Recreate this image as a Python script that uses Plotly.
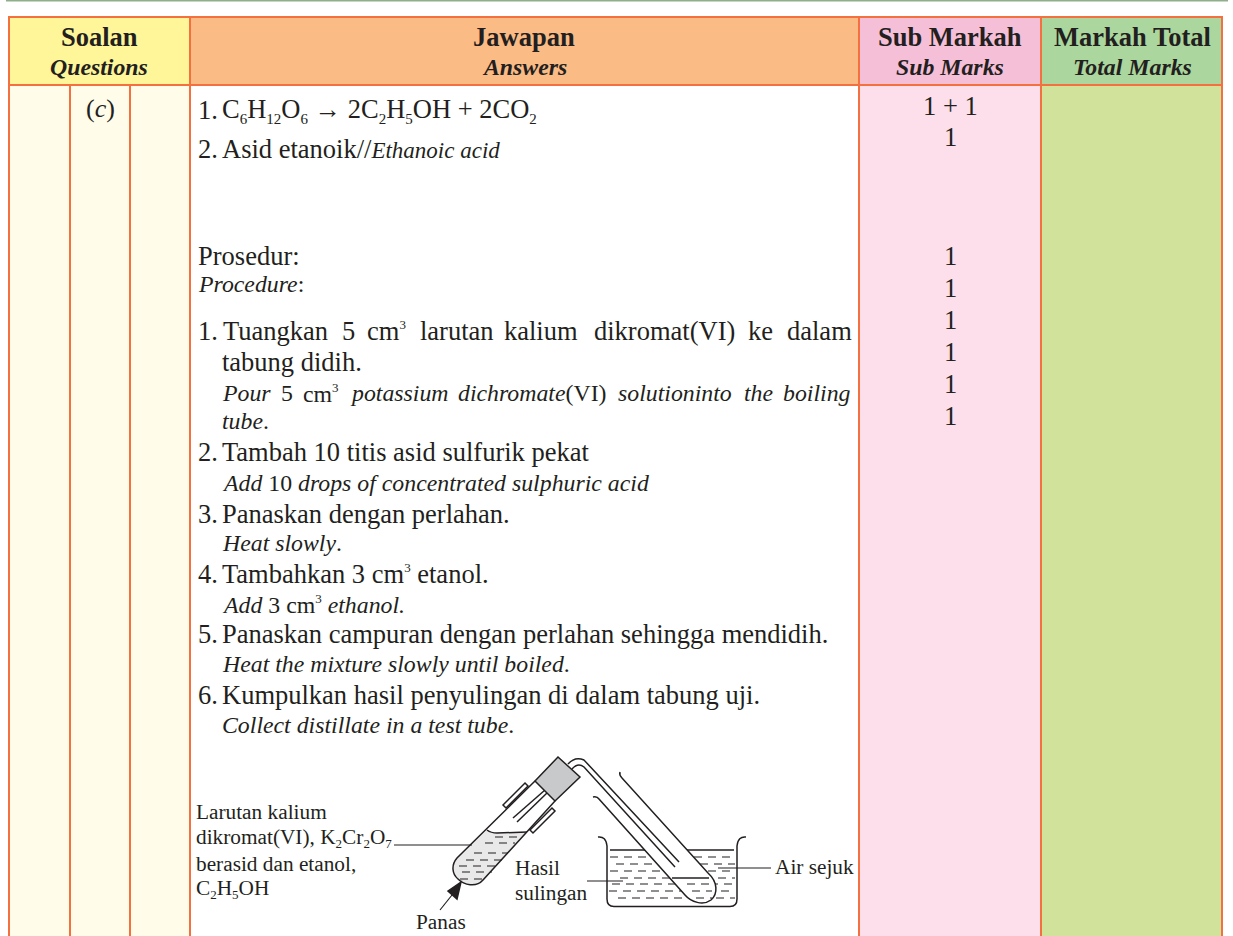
import plotly.graph_objects as go

W, H = 1233, 936
INK = "#231f20"
LINE = "#f4703f"
SERIF = "Liberation Serif"

# ---------- table content ----------
header_titles = ["Soalan", "Jawapan", "Sub Markah", "Markah Total"]
header_subtitles = ["Questions", "Answers", "Sub Marks", "Total Marks"]
header_centres = [99, 524, 950, 1132]
header_edges = [9, 190, 859, 1041, 1222]
header_colours = ["#fff599", "#fbbb85", "#f6bfd8", "#abd69d"]
body_edges = [9, 70, 130, 190, 859, 1041, 1222]
body_colours = ["#fffcea", "#fffcea", "#fffcea", "#ffffff", "#fcdfeb", "#d1e39b"]

def sb(t):
    return f"<sub><span style='font-size:15px'>{t}</span></sub>"

def sp(t):
    return f"<sup><span style='font-size:13px'>{t}</span></sup>"

answer_numbers = ["1.", "2.", "2.", "3.", "4.", "5.", "6."]
answer_number_y = [110, 149, 452, 514, 574, 634, 695]
answer_main = [
    f"C{sb(6)}H{sb(12)}O{sb(6)} <b>\u2192</b> 2C{sb(2)}H{sb(5)}OH + 2CO{sb(2)}",
    "Asid etanoik//<span style='font-size:23px'><i>Ethanoic acid</i></span>",
    "Tambah 10 titis asid sulfurik pekat",
    "Panaskan dengan perlahan.",
    f"Tambahkan 3 cm{sp(3)} etanol.",
    "Panaskan campuran dengan perlahan sehingga mendidih.",
    "Kumpulkan hasil penyulingan di dalam tabung uji.",
]
answer_indent = ["tabung didih."]
answer_indent_y = [362]
answer_head = ["Prosedur:"]
answer_head_y = [256]
answer_small = ["<i>Procedure</i>:"]
answer_small_y = [284]
answer_italic = [
    "<i>tube</i>.",
    "<i>Add</i> 10 <i>drops of concentrated sulphuric acid</i>",
    "<i>Heat slowly</i>.",
    f"<i>Add</i> 3 cm{sp(3)} <i>ethanol.</i>",
    "<i>Heat the mixture slowly until boiled</i>.",
    "<i>Collect distillate in a test tube</i>.",
]
answer_italic_y = [421, 483, 543, 604, 664, 725]

just1_words = ["1.", "Tuangkan", "5", f"cm{sp(3)}", "larutan", "kalium", "dikromat(VI)", "ke", "dalam"]
just1_x = [198, 223, 342, 367, 420, 504, 594, 748, 787]
just2_words = ["<i>Pour</i>", "5", f"cm{sp(3)}", "<i>potassium</i>", "<i>dichromate</i>(VI)",
               "<i>solutioninto</i>", "<i>the</i>", "<i>boiling</i>"]
just2_x = [222, 281, 303, 350, 458, 618, 744, 783]

sub_marks = ["1 + 1", "1", "1", "1", "1", "1", "1", "1"]
sub_marks_y = [106, 137, 256, 288, 320, 352, 384, 416]

def sl(t):
    return f"<sub><span style='font-size:13px'>{t}</span></sub>"

diagram_labels = ["Larutan kalium", f"dikromat(VI), K{sl(2)}Cr{sl(2)}O{sl(7)}",
                  "berasid dan etanol,", f"C{sl(2)}H{sl(5)}OH",
                  "Hasil", "sulingan", "Air sejuk", "Panas"]
diagram_label_x = [196, 196, 196, 196, 515, 515, 775, 416]
diagram_label_y = [812, 838, 864, 889, 868, 893, 867, 922]

# ---------- helpers ----------
shapes, notes = [], []

def rect(x0, y0, x1, y1, fill, line=LINE, lw=2):
    shapes.append(dict(type="rect", x0=x0, y0=y0, x1=x1, y1=y1, fillcolor=fill,
                       line=dict(color=line, width=lw), layer="below"))

def path(d, fill=None, lw=1.5, color=INK, dash=None):
    ln = dict(color=color, width=lw)
    if dash:
        ln["dash"] = dash
    s = dict(type="path", path=d, line=ln, layer="above")
    if fill:
        s["fillcolor"] = fill
    shapes.append(s)

def dashes(x0, x1, y):
    path(f"M{x0},{y} L{x1},{y}", lw=1.1, dash="8px,6px")

def text(t, x, y, size, anchor="left", color=INK):
    notes.append(dict(text=t, x=x - 2 if anchor == "left" else x, y=y, xref="x", yref="y",
                      showarrow=False, xanchor=anchor, yanchor="middle", align=anchor,
                      font=dict(family=SERIF, size=size, color=color)))

# ---------- top strip ----------
shapes.append(dict(type="rect", x0=6, y0=-2, x1=1228, y1=1.5, fillcolor="#8fae8c",
                   line=dict(width=0), layer="below"))

# ---------- table ----------
for c, a, b in zip(body_colours, body_edges[:-1], body_edges[1:]):
    rect(a, 85, b, 940, c)
for c, a, b in zip(header_colours, header_edges[:-1], header_edges[1:]):
    rect(a, 17, b, 85, c)
for t, s, x in zip(header_titles, header_subtitles, header_centres):
    text(f"<b>{t}</b>", x, 37, 26.5, "center")
    text(f"<b><i>{s}</i></b>", x, 67, 23.8, "center")

text("(<i>c</i>)", 100, 108, 26, "center")
for t, y in zip(answer_numbers, answer_number_y):
    text(t, 198, y, 26.5)
for t, y in zip(answer_main, answer_number_y):
    text(t, 222, y, 26.5)
for t, y in zip(answer_head, answer_head_y):
    text(t, 198, y, 26.5)
for t, y in zip(answer_indent, answer_indent_y):
    text(t, 222, y, 26.5)
for t, y in zip(answer_small, answer_small_y):
    text(t, 198, y, 23.8)
for t, y in zip(answer_italic, answer_italic_y):
    text(t, 222, y, 23.8)
for t, x in zip(just1_words, just1_x):
    text(t, x, 331, 26.5)
for t, x in zip(just2_words, just2_x):
    text(t, x, 393, 23.8)
for t, y in zip(sub_marks, sub_marks_y):
    text(t, 950, y, 26.5, "center")

# ---------- diagram: beaker water ----------
for y, x0 in [(857, 610), (864, 616), (871, 610), (878, 620), (884, 612), (891, 609), (898, 618)]:
    dashes(x0, 735, y)
path("M598,837 Q606,836 607,846 L607,899 Q607,906.5 614,906.5 L730,906.5 Q737,906.5 737,899 L737,846 Q738,836 746,837")
path("M610,850 L646,850")
path("M687,850 L734,850")
path("M718,868 L771,868", lw=1.2)

# ---------- receiving tube ----------
TUBE = "L685,895 C691,902 703,906 711,900 C718,894 718,882 708,873 L622,778"
path(f"M598,798 {TUBE} Z", fill="#ffffff", lw=0.01, color="#ffffff")
path(f"M593,797 Q597,796 599,799 {TUBE} Q619,775 620,772")
path("M672,878 L709,878")
for y, a, b in [(884, 687, 712), (891, 692, 712), (898, 696, 712)]:
    dashes(a, b, y)
path("M587,881 L623,881", lw=1.2)

# ---------- heated tube ----------
BASE = "C451,865 452,874 458,879 C464,885 476,888 483,880"
path(f"M487,830 L457,858 {BASE} L527,832 L497,833 Q491,833 487,830 Z", fill="#e9e9e9", lw=0.01, color="#e9e9e9")
for y, a, b in [(837, 495, 522), (843, 485, 515), (853, 474, 508), (860, 466, 502),
                (866, 459, 497), (872, 462, 492), (879, 460, 482)]:
    dashes(a, b, y)
path(f"M535,781 L457,858 {BASE} L555,801")
path("M487,830 Q491,833 497,833 L527,832")
path("M503,805 L525,783 L528,786 L506,808 Z", fill="#ffffff")
path("M530,830 L552,808 L555,811 L533,833 Z", fill="#ffffff")
path("M513,818 L545,790")
path("M517,822 L547,793")
path("M535,781 L558,757 L580,777 L555,801 Z", fill="#c8c9cb")
path("M568,764 Q575,756 584,760 L679,862")
path("M572,769 Q578,762 584,767 L675,867")
path("M394,845 L472,845", lw=1.2)
path("M440,910 L452,895", lw=1.2)
path("M461,882 L448,891 L457,899 Z", fill=INK)

for t, x, y in zip(diagram_labels, diagram_label_x, diagram_label_y):
    text(t, x, y, 21.3)

fig = go.Figure()
fig.update_layout(
    width=W, height=H, autosize=False,
    margin=dict(l=0, r=0, t=0, b=0),
    paper_bgcolor="#ffffff", plot_bgcolor="#ffffff",
    xaxis=dict(range=[0, W], visible=False, fixedrange=True),
    yaxis=dict(range=[H, 0], visible=False, fixedrange=True),
    shapes=shapes, annotations=notes, showlegend=False,
)
fig.write_html("out.html", config=dict(displayModeBar=False),
               post_script="document.body.style.margin='0';document.body.style.overflow='hidden';")
